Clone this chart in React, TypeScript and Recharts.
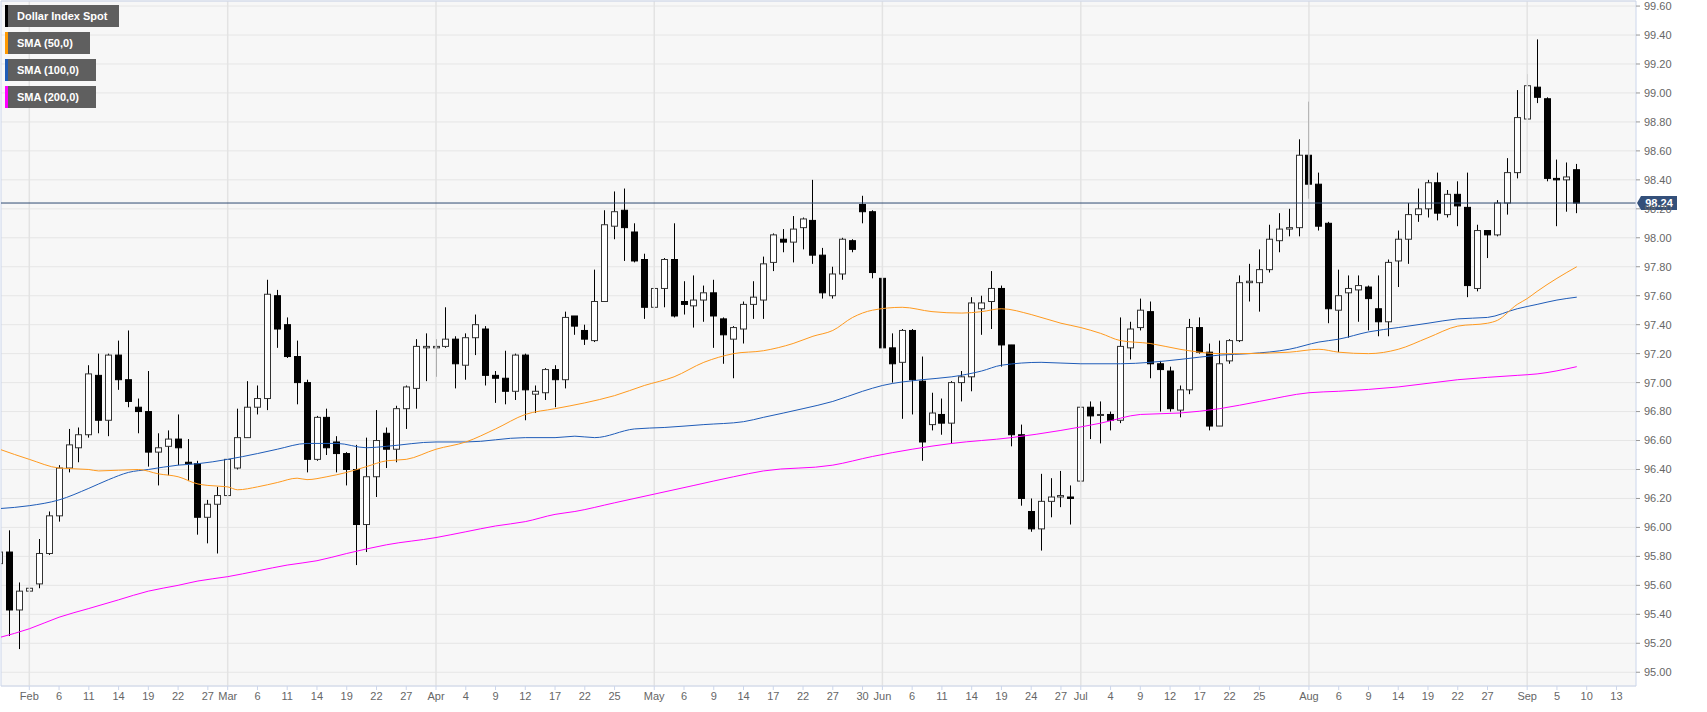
import { Bar, CartesianGrid, ComposedChart, Line, ReferenceLine, XAxis, YAxis } from 'recharts';

// daily candles per month: [day, open, high, low, close]
const jan = [
    [29, 95.75, 95.87, 95.62, 95.83],
    [30, 95.83, 95.98, 95.25, 95.43],
    [31, 95.43, 95.62, 95.16, 95.56],
];
const feb = [
    [1, 95.56, 95.66, 95.4, 95.58],
    [4, 95.61, 95.92, 95.58, 95.82],
    [5, 95.82, 96.11, 95.81, 96.08],
    [6, 96.08, 96.43, 96.04, 96.41],
    [7, 96.41, 96.68, 96.38, 96.57],
    [8, 96.55, 96.69, 96.45, 96.64],
    [11, 96.64, 97.12, 96.62, 97.06],
    [12, 97.05, 97.2, 96.65, 96.74],
    [13, 96.74, 97.2, 96.63, 97.19],
    [14, 97.19, 97.29, 96.95, 97.02],
    [15, 97.02, 97.36, 96.83, 96.87],
    [18, 96.83, 96.89, 96.65, 96.8],
    [19, 96.8, 97.08, 96.42, 96.52],
    [20, 96.52, 96.65, 96.29, 96.55],
    [21, 96.56, 96.67, 96.36, 96.61],
    [22, 96.61, 96.78, 96.43, 96.55],
    [25, 96.45, 96.61, 96.32, 96.44],
    [26, 96.44, 96.46, 95.95, 96.07],
    [27, 96.07, 96.19, 95.89, 96.16],
    [28, 96.16, 96.28, 95.82, 96.22],
];
const mar = [
    [1, 96.22, 96.55, 96.07, 96.47],
    [4, 96.41, 96.82, 96.4, 96.62],
    [5, 96.62, 97.01, 96.62, 96.83],
    [6, 96.83, 96.98, 96.78, 96.89],
    [7, 96.89, 97.71, 96.81, 97.61],
    [8, 97.6, 97.64, 97.24, 97.37],
    [11, 97.4, 97.45, 97.17, 97.18],
    [12, 97.18, 97.29, 96.85, 97.0],
    [13, 97.0, 97.02, 96.38, 96.47],
    [14, 96.47, 96.77, 96.46, 96.76],
    [15, 96.76, 96.82, 96.5, 96.55],
    [18, 96.59, 96.63, 96.38, 96.51],
    [19, 96.51, 96.52, 96.29, 96.4],
    [20, 96.4, 96.57, 95.74, 96.02],
    [21, 96.02, 96.62, 95.83, 96.35],
    [22, 96.35, 96.81, 96.21, 96.6],
    [25, 96.65, 96.69, 96.41, 96.54],
    [26, 96.54, 96.84, 96.45, 96.82],
    [27, 96.82, 96.98, 96.68, 96.97],
    [28, 96.96, 97.3, 96.82, 97.25],
    [29, 97.24, 97.34, 97.01, 97.25],
];
const apr = [
    [1, 97.24, 97.3, 97.04, 97.25],
    [2, 97.25, 97.52, 97.24, 97.3],
    [3, 97.3, 97.32, 96.96, 97.13],
    [4, 97.12, 97.34, 97.02, 97.31],
    [5, 97.31, 97.47, 97.19, 97.4],
    [8, 97.37, 97.39, 96.98, 97.05],
    [9, 97.05, 97.08, 96.86, 97.03],
    [10, 97.03, 97.22, 96.85, 96.94],
    [11, 96.94, 97.2, 96.88, 97.19],
    [12, 97.19, 97.2, 96.74, 96.95],
    [15, 96.92, 96.98, 96.79, 96.94],
    [16, 96.93, 97.1, 96.88, 97.09],
    [17, 97.09, 97.12, 96.83, 97.02],
    [18, 97.02, 97.49, 96.96, 97.45],
    [19, 97.46, 97.46, 97.33, 97.39],
    [22, 97.36, 97.4, 97.26, 97.3],
    [23, 97.29, 97.78, 97.28, 97.56],
    [24, 97.56, 98.19, 97.56, 98.09],
    [25, 98.08, 98.32, 97.99, 98.18],
    [26, 98.19, 98.34, 97.84, 98.07],
    [29, 98.04, 98.1, 97.83, 97.84],
    [30, 97.85, 97.89, 97.44, 97.52],
];
const may = [
    [1, 97.52, 97.74, 97.15, 97.65],
    [2, 97.65, 97.86, 97.52, 97.85],
    [3, 97.85, 98.1, 97.45, 97.46],
    [6, 97.56, 97.7, 97.47, 97.54],
    [7, 97.53, 97.74, 97.38, 97.57],
    [8, 97.57, 97.67, 97.42, 97.62],
    [9, 97.62, 97.71, 97.24, 97.46],
    [10, 97.44, 97.45, 97.13, 97.33],
    [13, 97.3, 97.39, 97.03, 97.38],
    [14, 97.37, 97.56, 97.27, 97.54],
    [15, 97.54, 97.7, 97.44, 97.59],
    [16, 97.57, 97.87, 97.44, 97.82],
    [17, 97.83, 98.03, 97.77, 98.02],
    [20, 97.99, 98.06, 97.9, 97.97],
    [21, 97.97, 98.15, 97.83, 98.06],
    [22, 98.07, 98.14, 97.92, 98.13],
    [23, 98.12, 98.4, 97.82, 97.88],
    [24, 97.88, 97.93, 97.58, 97.62],
    [27, 97.6, 97.8, 97.58, 97.75],
    [28, 97.75, 98.0, 97.71, 97.99],
    [29, 97.98, 97.99, 97.9, 97.92],
    [30, 98.23, 98.29, 98.1, 98.18],
    [31, 98.18, 98.19, 97.72, 97.76],
];
const jun = [
    [3, 97.72, 97.81, 97.11, 97.24],
    [4, 97.24, 97.34, 97.0, 97.13],
    [5, 97.14, 97.37, 96.75, 97.36],
    [6, 97.36, 97.37, 96.78, 97.02],
    [7, 97.01, 97.18, 96.46, 96.59],
    [10, 96.71, 96.93, 96.67, 96.79],
    [11, 96.78, 96.89, 96.64, 96.72],
    [12, 96.72, 97.01, 96.58, 97.0],
    [13, 97.0, 97.08, 96.87, 97.04],
    [14, 97.04, 97.59, 96.94, 97.55],
    [17, 97.51, 97.6, 97.33, 97.55],
    [18, 97.56, 97.77, 97.37, 97.65],
    [19, 97.65, 97.67, 97.11, 97.26],
    [20, 97.26, 97.26, 96.56, 96.64],
    [21, 96.64, 96.71, 96.15, 96.2],
    [24, 96.11, 96.2, 95.97, 95.99],
    [25, 95.99, 96.37, 95.84, 96.18],
    [26, 96.18, 96.34, 96.07, 96.21],
    [27, 96.21, 96.39, 96.14, 96.22],
    [28, 96.21, 96.29, 96.02, 96.2],
];
const jul = [
    [1, 96.32, 96.87, 96.29, 96.83],
    [2, 96.83, 96.87, 96.61, 96.77],
    [3, 96.78, 96.87, 96.58, 96.78],
    [4, 96.78, 96.8, 96.67, 96.74],
    [5, 96.74, 97.45, 96.72, 97.25],
    [8, 97.24, 97.42, 97.16, 97.37],
    [9, 97.38, 97.58, 97.36, 97.5],
    [10, 97.49, 97.56, 97.03, 97.13],
    [11, 97.13, 97.15, 96.8, 97.09],
    [12, 97.08, 97.11, 96.8, 96.82],
    [15, 96.81, 96.98, 96.76, 96.95],
    [16, 96.95, 97.44, 96.92, 97.38],
    [17, 97.38, 97.45, 97.2, 97.21],
    [18, 97.21, 97.27, 96.67, 96.7],
    [19, 96.7, 97.29, 96.7, 97.13],
    [22, 97.15, 97.3, 97.13, 97.29],
    [23, 97.29, 97.74, 97.28, 97.69],
    [24, 97.69, 97.82, 97.56, 97.7],
    [25, 97.69, 97.92, 97.49, 97.78],
    [26, 97.78, 98.09, 97.76, 97.99],
    [29, 97.98, 98.17, 97.9, 98.06],
    [30, 98.06, 98.2, 98.01, 98.07],
    [31, 98.07, 98.68, 98.01, 98.57],
];
const aug = [
    [1, 98.57, 98.94, 98.27, 98.37],
    [2, 98.37, 98.45, 98.05, 98.08],
    [5, 98.1, 98.11, 97.41, 97.51],
    [6, 97.5, 97.78, 97.21, 97.6],
    [7, 97.62, 97.74, 97.31, 97.65],
    [8, 97.64, 97.74, 97.42, 97.67],
    [9, 97.66, 97.67, 97.36, 97.58],
    [12, 97.51, 97.74, 97.32, 97.42],
    [13, 97.42, 97.85, 97.32, 97.83],
    [14, 97.84, 98.05, 97.66, 97.99],
    [15, 97.99, 98.24, 97.82, 98.16],
    [16, 98.16, 98.34, 98.11, 98.2],
    [19, 98.2, 98.4, 98.14, 98.38],
    [20, 98.38, 98.45, 98.12, 98.17],
    [21, 98.16, 98.33, 98.14, 98.3],
    [22, 98.3, 98.39, 98.08, 98.22],
    [23, 98.21, 98.45, 97.59, 97.67],
    [26, 97.65, 98.09, 97.63, 98.05],
    [27, 98.05, 98.05, 97.86, 98.02],
    [28, 98.02, 98.26, 98.01, 98.24],
    [29, 98.24, 98.55, 98.16, 98.45],
    [30, 98.45, 99.02, 98.41, 98.83],
];
const sep = [
    [2, 98.82, 99.13, 98.82, 99.05],
    [3, 99.04, 99.37, 98.93, 98.97],
    [4, 98.96, 98.97, 98.39, 98.41],
    [5, 98.41, 98.54, 98.08, 98.4],
    [6, 98.4, 98.52, 98.18, 98.42],
    [9, 98.47, 98.51, 98.17, 98.24],
];
// empty trading days still on the axis
const sepAhead = [10, 11, 12, 13, 16, 17];

const months: [string, number[][]][] = [
    ['Jan', jan], ['Feb', feb], ['Mar', mar], ['Apr', apr], ['May', may],
    ['Jun', jun], ['Jul', jul], ['Aug', aug], ['Sep', sep],
];

// moving averages: [trading day index from Jan 29, value]
const sma50 = [
    [0, 96.54], [3, 96.47], [6, 96.41], [9, 96.4], [10, 96.39], [14, 96.4], [16, 96.37], [18, 96.35],
    [20, 96.3], [21, 96.29], [23, 96.28], [24, 96.26], [26, 96.28], [28, 96.31], [30, 96.34], [31, 96.33],
    [33, 96.35], [35, 96.38], [37, 96.42], [39, 96.46], [41, 96.47], [44, 96.54], [47, 96.59], [50, 96.68],
    [53, 96.78], [56, 96.82], [59, 96.86], [62, 96.91], [65, 96.98], [68, 97.04], [71, 97.14], [74, 97.2],
    [77, 97.22], [80, 97.27], [82, 97.32], [84, 97.36], [86, 97.45], [88, 97.5], [91, 97.52], [94, 97.49],
    [97, 97.48], [99, 97.49], [101, 97.51], [104, 97.47], [107, 97.41], [109, 97.38], [111, 97.34], [113, 97.29],
    [116, 97.27], [119, 97.23], [123, 97.2], [125, 97.2], [130, 97.21], [133, 97.23], [135, 97.21], [138, 97.2],
    [141, 97.23], [144, 97.31], [147, 97.39], [150, 97.41], [151, 97.43], [153, 97.54], [154, 97.58], [155, 97.63],
    [157, 97.72], [159, 97.8],
];
const sma100 = [
    [0, 96.13], [3, 96.15], [6, 96.19], [9, 96.27], [11, 96.33], [13, 96.38], [15, 96.4], [18, 96.43],
    [20, 96.44], [23, 96.47], [26, 96.51], [28, 96.54], [31, 96.58], [34, 96.58], [37, 96.55], [39, 96.56],
    [44, 96.59], [47, 96.59], [53, 96.62], [56, 96.62], [58, 96.63], [60, 96.62], [64, 96.68], [67, 96.69],
    [71, 96.71], [75, 96.73], [77, 96.76], [81, 96.82], [84, 96.87], [87, 96.94], [89, 96.98], [93, 97.02],
    [96, 97.04], [99, 97.08], [101, 97.12], [105, 97.14], [109, 97.13], [113, 97.13], [116, 97.14], [119, 97.16],
    [123, 97.19], [126, 97.2], [130, 97.23], [133, 97.28], [135, 97.3], [138, 97.35], [141, 97.38], [144, 97.41],
    [147, 97.44], [150, 97.45], [153, 97.51], [155, 97.54], [157, 97.57], [159, 97.59],
];
const sma200 = [
    [0, 95.24], [3, 95.3], [6, 95.38], [9, 95.44], [12, 95.5], [15, 95.56], [18, 95.6], [20, 95.63],
    [23, 95.66], [26, 95.7], [29, 95.74], [32, 95.77], [35, 95.82], [39, 95.88], [44, 95.93], [47, 95.97],
    [50, 96.01], [53, 96.04], [56, 96.09], [58, 96.11], [62, 96.17], [66, 96.23], [70, 96.29], [74, 96.35],
    [77, 96.39], [84, 96.43], [88, 96.49], [92, 96.54], [96, 96.58], [102, 96.62], [107, 96.67], [111, 96.72],
    [115, 96.78], [119, 96.79], [123, 96.82], [127, 96.87], [132, 96.93], [135, 96.94], [141, 96.97], [147, 97.02],
    [153, 97.05], [155, 97.06], [159, 97.11],
];

const yTicks = [
    95.0, 95.2, 95.4, 95.6, 95.8, 96.0, 96.2, 96.4, 96.6, 96.8, 97.0, 97.2,
    97.4, 97.6, 97.8, 98.0, 98.2, 98.4, 98.6, 98.8, 99.0, 99.2, 99.4, 99.6,
];

// first day of each month gets the month name
const xTickDays: [string, number[]][] = [
    ['Feb', [1, 6, 11, 14, 19, 22, 27]],
    ['Mar', [1, 6, 11, 14, 19, 22, 27]],
    ['Apr', [1, 4, 9, 12, 17, 22, 25]],
    ['May', [1, 6, 9, 14, 17, 22, 27, 30]],
    ['Jun', [3, 6, 11, 14, 19, 24, 27]],
    ['Jul', [1, 4, 9, 12, 17, 22, 25]],
    ['Aug', [1, 6, 9, 14, 19, 22, 27]],
    ['Sep', [2, 5, 10, 13]],
];

const legendItems = [
    { name: 'Dollar Index Spot', color: '#000000', width: 111 },
    { name: 'SMA (50,0)', color: '#ff9900', width: 82 },
    { name: 'SMA (100,0)', color: '#1f5cb8', width: 88 },
    { name: 'SMA (200,0)', color: '#ff00ff', width: 88 },
];

const rows: any[] = [];
months.forEach(([m, days]) =>
    days.forEach(([d, o, h, l, c]) =>
        rows.push({ i: rows.length, key: `${m} ${d}`, open: o, high: h, low: l, close: c, range: [l, h] }),
    ),
);
sepAhead.forEach((d) => rows.push({ i: rows.length, key: `Sep ${d}` }));
sma50.forEach(([i, v]) => (rows[i].sma50 = v));
sma100.forEach(([i, v]) => (rows[i].sma100 = v));
sma200.forEach(([i, v]) => (rows[i].sma200 = v));

const keyIndex = new Map(rows.map((r) => [r.key, r.i]));
const xTicks: number[] = [];
const monthStarts: number[] = [];
const tickText = new Map<number, string>();
xTickDays.forEach(([m, days]) =>
    days.forEach((d, k) => {
        const i = keyIndex.get(`${m} ${d}`) as number;
        xTicks.push(i);
        tickText.set(i, k === 0 ? m : String(d));
        if (k === 0) monthStarts.push(i);
    }),
);

const lastClose = sep[sep.length - 1][4];
const xDomain = [0.147, 164.97];
const yDomain = [94.905, 99.635];
const font = '"Liberation Sans", Arial, sans-serif';

function Candle(props: any) {
    const { x, y, width, height } = props;
    const p = props.payload ?? props;
    if (p.open == null || !height) return <g />;
    const span = p.high - p.low;
    const toY = (v: number) => y + ((p.high - v) / span) * height;
    const cx = Math.round(x + width / 2) + 0.5;
    const up = p.close >= p.open;
    const top = toY(Math.max(p.open, p.close));
    const bottom = toY(Math.min(p.open, p.close));
    return (
        <g>
            <line x1={cx} x2={cx} y1={y} y2={y + height} stroke="#000" strokeWidth={1} />
            <rect
                x={cx - 3}
                y={top}
                width={6}
                height={Math.max(bottom - top, 1)}
                fill={up ? '#ffffff' : '#000000'}
                stroke={up ? '#333333' : '#000000'}
                strokeWidth={1}
            />
        </g>
    );
}

function PriceTag(props: any) {
    const { x, y, width } = props.viewBox;
    const left = x + width + 1;
    return (
        <g>
            <path d={`M${left} ${y} L${left + 4} ${y - 7} H${left + 40} V${y + 7} H${left + 4} Z`} fill="#34507a" />
            <text
                x={left + 22}
                y={y}
                dy="0.36em"
                textAnchor="middle"
                fill="#ffffff"
                fontSize={11}
                fontWeight="bold"
                fontFamily={font}
            >
                {lastClose.toFixed(2)}
            </text>
        </g>
    );
}

export default function App() {
    return (
        <div style={{ position: 'relative', width: 1707, height: 712 }}>
            <style>{'body { margin: 0; }'}</style>
            <ComposedChart width={1707} height={712} data={rows} margin={{ top: 1, right: 0, bottom: 0, left: 1 }}>
                <CartesianGrid vertical={false} stroke="#e6e6e6" fill="#f7f7f7" />
                {monthStarts.map((i) => (
                    <ReferenceLine key={i} x={i} stroke="#e3e3e3" strokeWidth={1.5} />
                ))}
                <ReferenceLine y={yDomain[1]} stroke="#ccd6eb" />
                <ReferenceLine x={xDomain[0]} stroke="#ccd6eb" />
                <XAxis
                    dataKey="i"
                    type="number"
                    domain={xDomain}
                    allowDataOverflow
                    ticks={xTicks}
                    interval={0}
                    tickFormatter={(v) => tickText.get(v) ?? ''}
                    tick={{ fill: '#666666', fontSize: 11, fontFamily: font }}
                    tickSize={4}
                    tickLine={{ stroke: '#ccd6eb' }}
                    axisLine={{ stroke: '#ccd6eb' }}
                    height={26}
                />
                <YAxis
                    orientation="right"
                    type="number"
                    domain={yDomain}
                    allowDataOverflow
                    ticks={yTicks}
                    interval={0}
                    tickFormatter={(v) => v.toFixed(2)}
                    tick={{ fill: '#666666', fontSize: 11, fontFamily: font }}
                    tickSize={4}
                    tickMargin={4}
                    tickLine={{ stroke: '#999999' }}
                    axisLine={{ stroke: '#ccd6eb' }}
                    width={71}
                />
                <Line dataKey="sma200" type="monotone" stroke="#ff00ff" strokeWidth={1} dot={false} connectNulls isAnimationActive={false} />
                <Line dataKey="sma100" type="monotone" stroke="#1f5cb8" strokeWidth={1} dot={false} connectNulls isAnimationActive={false} />
                <Line dataKey="sma50" type="monotone" stroke="#ff9a1f" strokeWidth={1} dot={false} connectNulls isAnimationActive={false} />
                <Bar dataKey="range" barSize={7} shape={(p: any) => <Candle {...p} />} isAnimationActive={false} />
                <ReferenceLine y={lastClose} stroke="#2f4b73" strokeWidth={1} label={(p: any) => <PriceTag {...p} />} />
            </ComposedChart>
            <div style={{ position: 'absolute', left: 5, top: 5, fontFamily: font }}>
                {legendItems.map((item) => (
                    <div
                        key={item.name}
                        style={{
                            display: 'flex',
                            alignItems: 'center',
                            width: item.width + 3,
                            height: 22,
                            marginBottom: 5,
                            background: '#5f5f5f',
                            borderLeft: `3px solid ${item.color}`,
                            boxSizing: 'border-box',
                            paddingLeft: 9,
                            color: '#ffffff',
                            fontSize: 11,
                            fontWeight: 'bold',
                            whiteSpace: 'nowrap',
                        }}
                    >
                        {item.name}
                    </div>
                ))}
            </div>
        </div>
    );
}
